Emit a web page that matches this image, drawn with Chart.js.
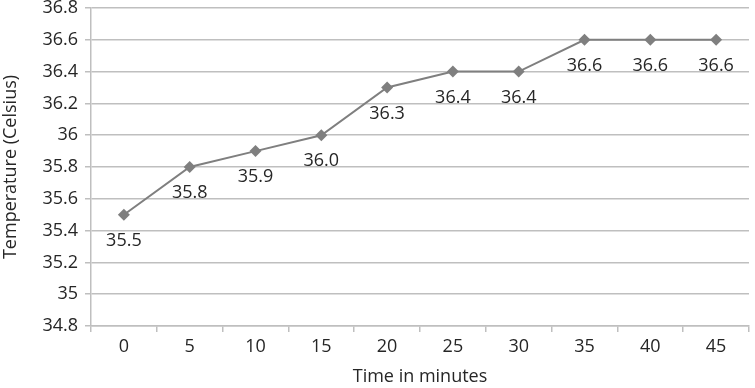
<!DOCTYPE html>
<html>
<head>
<meta charset="utf-8">
<script src="https://cdn.jsdelivr.net/npm/chart.js@4/dist/chart.umd.min.js"></script>
<style>
    html, body { margin: 0; padding: 0; background: #fff; }
    #wrap { width: 755px; height: 388px; }
</style>
</head>
<body>
<div id="wrap"><canvas id="line_chart_canvas"></canvas></div>
<script>
// Temperature readings over time
var minutes = ['0', '5', '10', '15', '20', '25', '30', '35', '40', '45'];
var temperature = [35.5, 35.8, 35.9, 36.0, 36.3, 36.4, 36.4, 36.6, 36.6, 36.6];
var y_min = 34.8;
var y_max = 36.8;
var y_step = 0.2;

var font_family = '"Open Sans", "DejaVu Sans", sans-serif';

// Draw the value under each point
var point_labels = {
    id: 'point_labels',
    afterDatasetsDraw: function(chart) {
        var ctx = chart.ctx;
        var meta = chart.getDatasetMeta(0);
        ctx.save();
        ctx.font = '18px ' + font_family;
        ctx.fillStyle = '#262626';
        ctx.textAlign = 'center';
        ctx.textBaseline = 'middle';
        meta.data.forEach(function(pt, i) {
            ctx.fillText(temperature[i].toFixed(1), pt.x, pt.y + 26);
        });
        ctx.restore();
    }
};

var context = document.getElementById('line_chart_canvas').getContext('2d');

var line_chart = new Chart(context, {
    type: 'line',
    data: {
        labels: minutes,
        datasets: [{
            label: 'Temperature',
            data: temperature,
            borderColor: '#7f7f7f',
            backgroundColor: '#7f7f7f',
            borderWidth: 2,
            pointStyle: 'rectRot',
            pointRadius: 6,
            pointBorderWidth: 0,
            tension: 0
        }]
    },
    plugins: [point_labels],
    options: {
        responsive: true,
        maintainAspectRatio: false,
        animation: false,
        layout: { padding: { top: 8, right: 2, left: 0, bottom: 0 } },
        plugins: {
            legend: { display: false },
            tooltip: { enabled: false }
        },
        scales: {
            x: {
                offset: true,
                grid: {
                    offset: true,
                    drawOnChartArea: false,
                    drawTicks: true,
                    tickLength: 6,
                    color: '#bfbfbf',
                    lineWidth: 1.5
                },
                border: { color: '#bfbfbf', width: 1.5 },
                ticks: {
                    color: '#262626',
                    padding: 4,
                    maxRotation: 0,
                    font: { family: font_family, size: 18 }
                },
                title: {
                    display: true,
                    text: 'Time in minutes',
                    color: '#262626',
                    padding: { top: 0, bottom: 0 },
                    font: { family: font_family, size: 18 }
                },
                afterFit: function(scale) { scale.height = 62; }
            },
            y: {
                min: y_min,
                max: y_max,
                grid: {
                    color: '#bfbfbf',
                    lineWidth: 1.5,
                    tickLength: 6
                },
                border: { color: '#bfbfbf', width: 1.5 },
                ticks: {
                    stepSize: y_step,
                    color: '#262626',
                    padding: 7,
                    font: { family: font_family, size: 18 },
                    callback: function(v) { return String(+v.toFixed(1)); }
                },
                title: {
                    display: true,
                    text: 'Temperature (Celsius)',
                    color: '#262626',
                    padding: { top: 0, bottom: 0 },
                    font: { family: font_family, size: 18 }
                },
                afterFit: function(scale) {
                    scale.width = 91;
                    scale.paddingTop = 0;
                    scale.paddingBottom = 0;
                }
            }
        }
    }
});
</script>
</body>
</html>
